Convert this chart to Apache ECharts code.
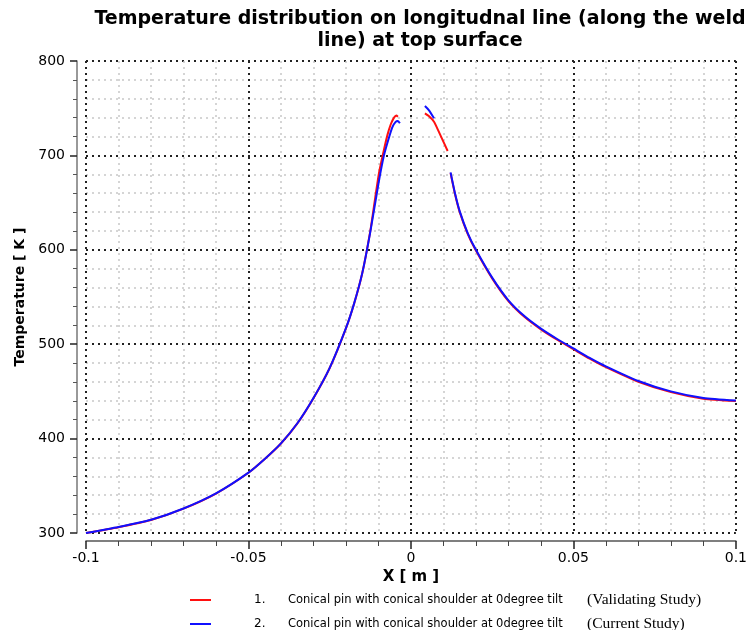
<!DOCTYPE html>
<html>
<head>
<meta charset="utf-8">
<title>Temperature distribution on longitudinal line</title>
<script src="https://cdn.jsdelivr.net/npm/echarts@6/dist/echarts.min.js"></script>
<style>
  html, body { margin: 0; padding: 0; background: #fff; }
  #chart { width: 750px; height: 630px; }
</style>
</head>
<body>
<div id="chart"></div>
<script>
// Position along the weld line [m] and top-surface temperature [K].
// null entries break the curve where the tool region interrupts the profile.
const validX = [-0.1, -0.09, -0.08, -0.07, -0.06, -0.05, -0.045, -0.04, -0.035, -0.03, -0.025, -0.02, -0.0175, -0.015, -0.0125, -0.011,
  -0.0098, -0.0083, -0.0072, -0.0062, -0.0052, -0.0045, -0.004, null,
  0.0043, 0.0055, 0.0071, 0.0086, 0.0098, 0.0113, null,
  0.0122, 0.0135, 0.015, 0.0175, 0.02, 0.025, 0.03, 0.035, 0.04, 0.045, 0.05, 0.055, 0.06, 0.07, 0.08, 0.09, 0.1];
const validT = [300, 306.2, 313.8, 325.8, 341.8, 363.8, 378.3, 394.8, 415.8, 442.8, 474.8, 516.8, 542.8, 574.8, 620, 655,
  682, 706, 722, 733, 740, 742.2, 741, null,
  744.6, 741.7, 735.7, 725, 716, 704.7, null,
  681.2, 660, 640.2, 616.7, 599.2, 569.7, 545.7, 528.7, 515.7, 504.7, 494.7, 484.7, 475.7, 460.2, 449.2, 442.2, 439.7];

const currentX = [-0.1, -0.09, -0.08, -0.07, -0.06, -0.05, -0.045, -0.04, -0.035, -0.03, -0.025, -0.02, -0.0175, -0.015, -0.0125, -0.01,
  -0.0083, -0.00675, -0.0057, -0.0047, -0.004, -0.0034, null,
  0.0043, 0.0055, 0.0071, null,
  0.0122, 0.0135, 0.015, 0.0175, 0.02, 0.025, 0.03, 0.035, 0.04, 0.045, 0.05, 0.055, 0.06, 0.07, 0.08, 0.09, 0.1];
const currentT = [300, 306.4, 314, 326, 342, 364, 378.5, 395, 416, 443, 475, 517, 543, 575, 619, 670,
  700, 719, 730, 735.5, 736.4, 734, null,
  752.3, 748, 739.3, null,
  682, 660.8, 641, 617.5, 600, 570.5, 546.5, 529.5, 516.5, 505.5, 495.5, 485.5, 476.5, 461, 450, 443, 440.3];

const xTicks = [-0.1, -0.05, 0, 0.05, 0.1];
const yTicks = [300, 400, 500, 600, 700, 800];

const seriesNames = [
  'Conical pin with conical shoulder at 0degree tilt (Validating Study)',
  'Conical pin with conical shoulder at 0degree tilt (Current Study)'
];
const legendNumbers = ['1.', '2.'];
const legendMain = 'Conical pin with conical shoulder at 0degree tilt';
const legendNotes = ['(Validating Study)', '(Current Study)'];
const seriesColors = ['#ff1010', '#1010ff'];

function pairs(xs, ys) {
  return xs.map((x, i) => (x === null ? [null, null] : [x, ys[i]]));
}

function legendEntry(i, top) {
  return {
    left: 185, top: top, orient: 'horizontal',
    itemWidth: 21, itemHeight: 2, icon: 'rect', itemGap: 0,
    data: [seriesNames[i]],
    formatter: function (name) {
      const k = seriesNames.indexOf(name);
      return '{n|' + legendNumbers[k] + '}{m|' + legendMain + '}{s|' + legendNotes[k] + '}';
    },
    textStyle: {
      rich: {
        n: { width: 34, padding: [0, 0, 0, 38], fontFamily: 'DejaVu Sans', fontSize: 12, color: '#000' },
        m: { width: 299, fontFamily: 'DejaVu Sans', fontSize: 11.5, color: '#000' },
        s: { fontFamily: 'Liberation Serif', fontSize: 15.5, color: '#000' }
      }
    }
  };
}

const chart = echarts.init(document.getElementById('chart'), null, { renderer: 'canvas' });

const majorSplit = { show: true, lineStyle: { color: '#222', width: 2, type: [2, 4] } };
const minorSplit = { show: true, lineStyle: { color: '#c8c8c8', width: 1.5, type: [2, 4] } };

chart.setOption({
  animation: false,
  backgroundColor: '#fff',
  graphic: [
    {
      type: 'text', x: 420, y: 8,
      style: {
        text: 'Temperature distribution on longitudnal line (along the weld\nline) at top surface',
        fontFamily: 'DejaVu Sans', fontWeight: 'bold', fontSize: 19, lineHeight: 22,
        fill: '#000', textAlign: 'center'
      }
    }
  ],
  grid: { left: 86, right: 12, top: 61, bottom: 97, containLabel: false },
  legend: [legendEntry(0, 587), legendEntry(1, 611)],
  xAxis: {
    type: 'value', min: -0.1, max: 0.1, interval: 0.05,
    offset: 8,
    name: 'X [ m ]', nameLocation: 'middle', nameGap: 28,
    nameTextStyle: { fontFamily: 'DejaVu Sans', fontWeight: 'bold', fontSize: 15, color: '#000' },
    axisLine: { show: true, onZero: false, lineStyle: { color: '#555', width: 1.5 } },
    axisTick: { show: true, inside: false, length: 8, lineStyle: { color: '#222', width: 1.5 } },
    minorTick: { show: true, splitNumber: 5, length: 5, lineStyle: { color: '#444', width: 1 } },
    axisLabel: {
      margin: 10, fontFamily: 'DejaVu Sans', fontSize: 14, color: '#000',
      formatter: v => {
        const t = xTicks.find(k => Math.abs(k - v) < 1e-9);
        return t === undefined ? '' : String(t);
      }
    },
    splitLine: majorSplit,
    minorSplitLine: minorSplit
  },
  yAxis: {
    type: 'value', min: 300, max: 800, interval: 100,
    offset: 9,
    name: 'Temperature [ K ]', nameLocation: 'middle', nameGap: 42, nameRotate: 90,
    nameTextStyle: { fontFamily: 'DejaVu Sans', fontWeight: 'bold', fontSize: 14, color: '#000' },
    axisLine: { show: true, onZero: false, lineStyle: { color: '#777', width: 1.5 } },
    axisTick: { show: true, inside: false, length: 7, lineStyle: { color: '#222', width: 1.5 } },
    minorTick: { show: true, splitNumber: 5, length: 4, lineStyle: { color: '#555', width: 1 } },
    axisLabel: {
      margin: 12, fontFamily: 'DejaVu Sans', fontSize: 14, color: '#000',
      formatter: v => (yTicks.indexOf(v) >= 0 ? String(v) : '')
    },
    splitLine: majorSplit,
    minorSplitLine: minorSplit
  },
  series: [
    {
      name: seriesNames[0], type: 'line', data: pairs(validX, validT),
      showSymbol: false, smooth: 0.2, connectNulls: false, z: 3,
      lineStyle: { color: seriesColors[0], width: 2 }, itemStyle: { color: seriesColors[0] }
    },
    {
      name: seriesNames[1], type: 'line', data: pairs(currentX, currentT),
      showSymbol: false, smooth: 0.2, connectNulls: false, z: 4,
      lineStyle: { color: seriesColors[1], width: 2 }, itemStyle: { color: seriesColors[1] }
    }
  ]
});
</script>
</body>
</html>
